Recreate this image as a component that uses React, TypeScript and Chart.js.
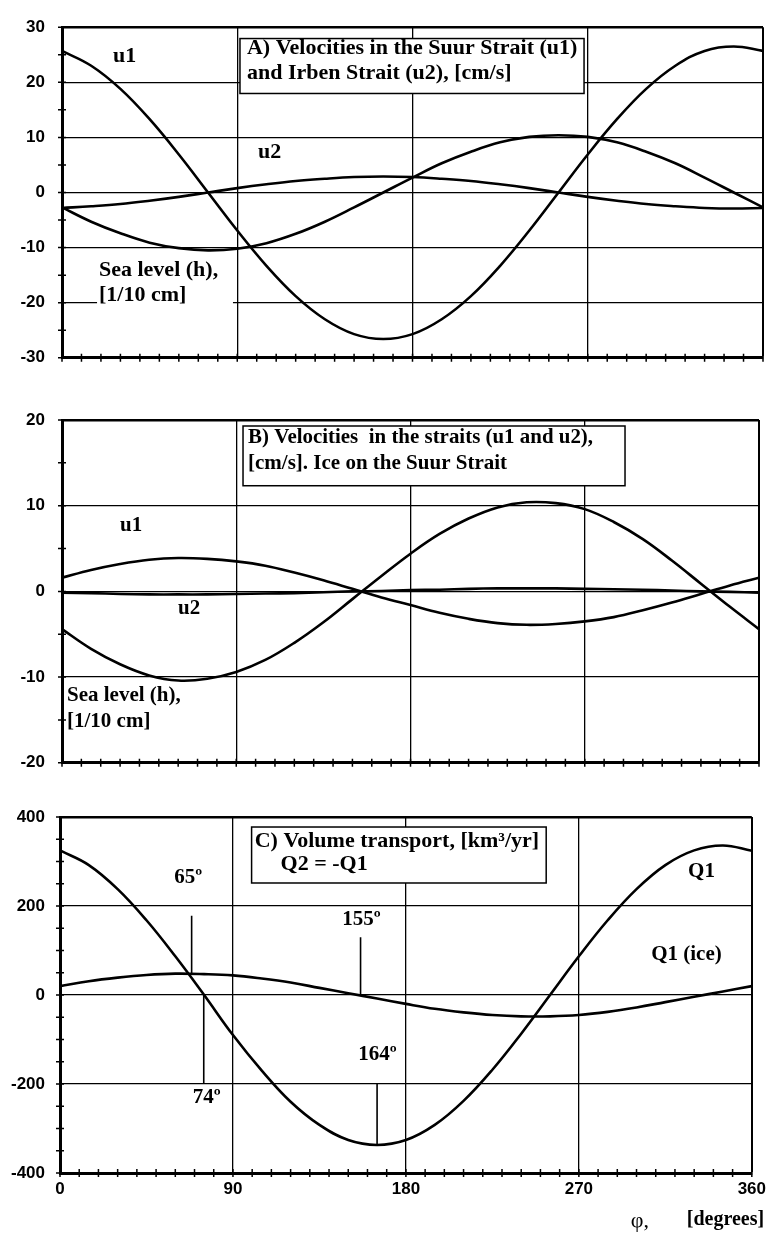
import React, { useEffect, useRef } from "react";
import { Chart, registerables } from "chart.js";

Chart.register(...registerables);

// phase angle, degrees
const PHI = [0, 15, 30, 45, 60, 75, 90, 105, 120, 135, 150, 165, 180, 195, 210, 225, 240, 255, 270, 285, 300, 315, 330, 345, 360];

// Panel A: velocities [cm/s] and sea level [1/10 cm]
const A_U1 = [25.7, 23.0, 18.8, 13.3, 6.9, 0, -6.9, -13.3, -18.8, -23.0, -25.7, -26.6, -25.7, -23.0, -18.8, -13.3, -6.9, 0, 6.9, 13.3, 18.8, 23.0, 25.7, 26.5, 25.7];
const A_H = [-2.7, -5.3, -7.4, -9.1, -10.1, -10.5, -10.2, -9.2, -7.5, -5.3, -2.7, 0, 2.7, 5.3, 7.4, 9.1, 10.1, 10.4, 10.1, 9.1, 7.4, 5.3, 2.7, 0, -2.7];
const A_U2 = [-2.8, -2.5, -2.1, -1.5, -0.8, 0, 0.8, 1.5, 2.1, 2.5, 2.8, 2.9, 2.8, 2.5, 2.1, 1.5, 0.8, 0, -0.8, -1.5, -2.1, -2.5, -2.8, -2.9, -2.8];

// Panel B: ice on the Suur Strait
const B_H = [-4.4, -6.7, -8.5, -9.8, -10.4, -10.2, -9.4, -8.0, -6.0, -3.6, -0.9, 1.8, 4.4, 6.7, 8.5, 9.8, 10.4, 10.3, 9.6, 8.1, 6.1, 3.6, 0.9, -1.8, -4.4];
const B_U1 = [1.6, 2.5, 3.2, 3.7, 3.9, 3.8, 3.5, 3.0, 2.2, 1.3, 0.3, -0.7, -1.6, -2.5, -3.2, -3.7, -3.9, -3.8, -3.5, -3.0, -2.2, -1.3, -0.3, 0.7, 1.6];
const B_U2 = [-0.15, -0.2, -0.3, -0.35, -0.35, -0.35, -0.3, -0.25, -0.2, -0.1, 0, 0.05, 0.15, 0.2, 0.3, 0.35, 0.35, 0.35, 0.3, 0.25, 0.2, 0.1, 0, -0.05, -0.15];

// Panel C: volume transport [km3/yr]
const C_Q1 = [325, 292, 238, 168, 87, 0, -90, -170, -240, -292, -326, -337, -326, -292, -238, -168, -87, 0, 87, 168, 238, 292, 325, 336, 324];
const C_Q1_ICE = [20, 31, 39, 45, 48, 47, 44, 37, 28, 16, 4, -8, -20, -31, -39, -45, -48, -48, -45, -38, -28, -16, -4, 8, 20];

// annotated phases in panel C
const C_MARK_LABELS = ["65º", "74º", "155º", "164º"];
const C_MARK_ANGLE = [68.5, 74.8, 156.4, 165];
const C_MARK_FROM = [48, 0, 0, -200];
const C_MARK_TO = [178, -200, 130, -337];

const X_TICK_LABELS = [0, 90, 180, 270, 360];

const SERIF = '"Liberation Serif", "Times New Roman", serif';
const SANS = '"Liberation Sans", Arial, sans-serif';

type Draw = (ctx: CanvasRenderingContext2D, X: (v: number) => number, Y: (v: number) => number, a: any) => void;

function decorPlugin(draw: Draw) {
  return {
    id: "decor",
    afterDraw(chart: any) {
      const ctx: CanvasRenderingContext2D = chart.ctx;
      const xs = chart.scales.x;
      const ys = chart.scales.y;
      const X = (v: number) => xs.getPixelForValue(v);
      const Y = (v: number) => ys.getPixelForValue(v);
      const a = chart.chartArea;
      ctx.save();
      ctx.strokeStyle = "#000";
      ctx.lineWidth = 1.5;
      ctx.beginPath();
      xs.ticks.forEach((t: any) => {
        const p = X(t.value);
        ctx.moveTo(p, a.bottom - 4);
        ctx.lineTo(p, a.bottom + 4);
      });
      ys.ticks.forEach((t: any) => {
        const p = Y(t.value);
        ctx.moveTo(a.left - 4, p);
        ctx.lineTo(a.left + 4, p);
      });
      ctx.stroke();
      ctx.fillStyle = "#000";
      ctx.textBaseline = "alphabetic";
      draw(ctx, X, Y, a);
      ctx.restore();
    },
  };
}

function box(ctx: CanvasRenderingContext2D, x1: number, y1: number, x2: number, y2: number) {
  ctx.save();
  ctx.fillStyle = "#fff";
  ctx.fillRect(x1, y1, x2 - x1, y2 - y1);
  ctx.strokeStyle = "#000";
  ctx.lineWidth = 1.5;
  ctx.strokeRect(x1, y1, x2 - x1, y2 - y1);
  ctx.restore();
}

function txt(ctx: CanvasRenderingContext2D, s: string, x: number, y: number, font: string, align: CanvasTextAlign = "left", maxW?: number) {
  ctx.font = font;
  ctx.textAlign = align;
  ctx.fillStyle = "#000";
  if (maxW) ctx.fillText(s, x, y, maxW);
  else ctx.fillText(s, x, y);
}

function series(vals: number[]) {
  return PHI.map((x, i) => ({ x, y: vals[i] }));
}

function makeConfig(opts: {
  sets: number[][];
  ymin: number;
  ymax: number;
  ystep: number;
  ymajor: number;
  left: number;
  right: number;
  top: number;
  bottom: number;
  xLabels: boolean;
  draw: Draw;
}): any {
  return {
    type: "line",
    data: {
      datasets: opts.sets.map((s) => ({
        data: series(s),
        borderColor: "#000",
        borderWidth: 2.6,
        pointRadius: 0,
        tension: 0.4,
        fill: false,
      })),
    },
    options: {
      animation: false,
      responsive: false,
      layout: { padding: { top: opts.top, right: opts.right, left: 0, bottom: 0 } },
      plugins: { legend: { display: false }, tooltip: { enabled: false } },
      scales: {
        x: {
          type: "linear",
          min: 0,
          max: 360,
          afterFit: (s: any) => {
            s.height = opts.bottom;
          },
          ticks: {
            stepSize: 10,
            autoSkip: false,
            maxRotation: 0,
            display: opts.xLabels,
            padding: 6,
            color: "#000",
            font: { family: SANS, size: 17, weight: "bold" },
            callback: (v: any) => (X_TICK_LABELS.includes(Number(v)) ? String(v) : ""),
          },
          grid: {
            drawTicks: false,
            color: (c: any) => {
              const v = c.tick ? c.tick.value : 0;
              return v > 0 && v % 90 === 0 ? "#000" : "rgba(0,0,0,0)";
            },
            lineWidth: (c: any) => (c.tick && c.tick.value === 360 ? 2 : 1.3),
          },
          border: { display: true, color: "#000", width: 3 },
        },
        y: {
          min: opts.ymin,
          max: opts.ymax,
          afterFit: (s: any) => {
            s.width = opts.left;
          },
          ticks: {
            stepSize: opts.ystep,
            autoSkip: false,
            padding: opts.left - 45,
            color: "#000",
            font: { family: SANS, size: 17, weight: "bold" },
            callback: (v: any) => (Number(v) % opts.ymajor === 0 ? String(v) : ""),
          },
          grid: {
            drawTicks: false,
            color: (c: any) => {
              const v = c.tick ? c.tick.value : 0;
              return v % opts.ymajor === 0 ? "#000" : "rgba(0,0,0,0)";
            },
            lineWidth: (c: any) => (c.tick && c.tick.value === opts.ymax ? 2.6 : 1.3),
          },
          border: { display: true, color: "#000", width: 3 },
        },
      },
    },
    plugins: [decorPlugin(opts.draw)],
  };
}

const drawA: Draw = (ctx, X, Y) => {
  const f = `bold 22px ${SERIF}`;
  ctx.fillStyle = "#fff";
  ctx.fillRect(X(18), Y(-11.8), X(87.8) - X(18), Y(-21.4) - Y(-11.8));
  box(ctx, X(91.4), Y(27.94), X(268.1), Y(17.97));
  txt(ctx, "A) Velocities in the Suur Strait (u1)", X(95), Y(25.19), f);
  txt(ctx, "and Irben Strait (u2), [cm/s]", X(95), Y(20.54), f);
  txt(ctx, "u1", X(26.2), Y(23.64), f);
  txt(ctx, "u2", X(100.7), Y(6.28), f);
  txt(ctx, "Sea level (h),", X(19), Y(-15.21), f);
  txt(ctx, "[1/10 cm]", X(19), Y(-19.68), f);
};

const drawB: Draw = (ctx, X, Y) => {
  const f = `bold 21px ${SERIF}`;
  box(ctx, X(93.5), Y(19.3), X(290.8), Y(12.33));
  txt(ctx, "B) Velocities  in the straits (u1 and u2),", X(96.1), Y(17.33), f, "left", 345);
  txt(ctx, "[cm/s]. Ice on the Suur Strait", X(96.1), Y(14.3), f, "left", 260);
  txt(ctx, "u1", X(30), Y(7.1), f);
  txt(ctx, "u2", X(59.9), Y(-2.67), f);
  txt(ctx, "Sea level (h),", X(2.6), Y(-12.8), f);
  txt(ctx, "[1/10 cm]", X(2.6), Y(-15.8), f);
};

const drawC: Draw = (ctx, X, Y, a) => {
  const f = `bold 22px ${SERIF}`;
  const fl = `bold 21px ${SERIF}`;
  box(ctx, X(99.7), Y(377.5), X(253), Y(251.7));
  txt(ctx, "C) Volume transport, [km³/yr]", X(101.3), Y(332.6), f);
  txt(ctx, "Q2 = -Q1", X(114.8), Y(280.9), f);
  ctx.strokeStyle = "#000";
  ctx.lineWidth = 1.6;
  ctx.beginPath();
  C_MARK_ANGLE.forEach((ang, i) => {
    ctx.moveTo(X(ang), Y(C_MARK_FROM[i]));
    ctx.lineTo(X(ang), Y(C_MARK_TO[i]));
  });
  ctx.stroke();
  const labelPos = [
    [66.7, 252],
    [76.4, -243],
    [156.9, 157],
    [165.2, -146],
  ];
  C_MARK_LABELS.forEach((s, i) => txt(ctx, s, X(labelPos[i][0]), Y(labelPos[i][1]), fl, "center"));
  txt(ctx, "Q1", X(333.8), Y(266), fl, "center");
  txt(ctx, "Q1 (ice)", X(326), Y(79.6), fl, "center");
  txt(ctx, "φ,", a.right - 121, a.bottom + 54, `22px ${SERIF}`);
  txt(ctx, "[degrees]", a.right - 65, a.bottom + 52, `bold 20px ${SERIF}`);
};

function Panel(props: { top: number; height: number; config: any }) {
  const ref = useRef<HTMLCanvasElement | null>(null);
  useEffect(() => {
    if (!ref.current) return;
    const chart = new Chart(ref.current, props.config);
    return () => chart.destroy();
  }, []);
  return (
    <canvas
      ref={ref}
      width={772}
      height={props.height}
      style={{ position: "absolute", left: 0, top: props.top, width: 772, height: props.height, display: "block" }}
    />
  );
}

export default function App() {
  const cfgA = makeConfig({ sets: [A_U1, A_H, A_U2], ymin: -30, ymax: 30, ystep: 5, ymajor: 10, left: 62, right: 9, top: 19, bottom: 17, xLabels: false, draw: drawA });
  const cfgB = makeConfig({ sets: [B_H, B_U1, B_U2], ymin: -20, ymax: 20, ystep: 5, ymajor: 10, left: 62, right: 13, top: 35, bottom: 26, xLabels: false, draw: drawB });
  const cfgC = makeConfig({ sets: [C_Q1, C_Q1_ICE], ymin: -400, ymax: 400, ystep: 50, ymajor: 200, left: 60, right: 19, top: 27, bottom: 67, xLabels: true, draw: drawC });
  return (
    <div style={{ position: "absolute", left: 0, top: 0, width: 772, height: 1240, background: "#fff" }}>
      <Panel top={0} height={385} config={cfgA} />
      <Panel top={385} height={405} config={cfgB} />
      <Panel top={790} height={450} config={cfgC} />
    </div>
  );
}
